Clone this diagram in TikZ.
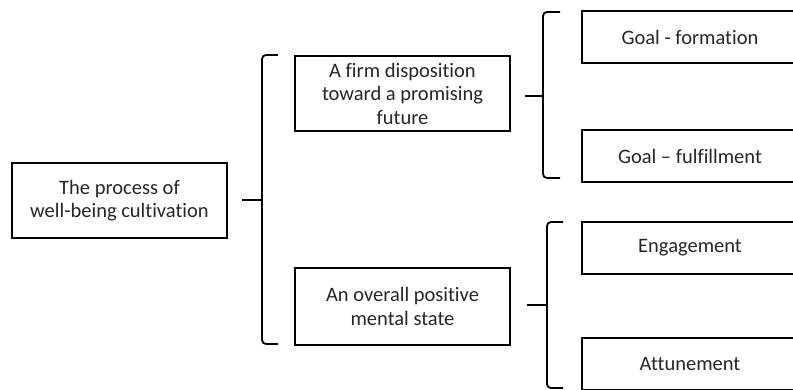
\documentclass[tikz,border=0pt]{standalone}
\usepackage{fontspec}
\setmainfont{Carlito}[Ligatures=NoCommon]
\usetikzlibrary{positioning}

\begin{document}
\begin{tikzpicture}[x=1pt,y=-1pt,
        box/.style={draw,line width=2.6pt,align=center,inner sep=0pt,text=black!85,
          font=\fontsize{20.5}{23.5}\selectfont},
        bigbox/.style={box,minimum width=215pt,minimum height=75pt},
        leafbox/.style={box,minimum width=216pt,minimum height=52pt},
        brace/.style={line width=1.8pt,rounded corners=4pt},
        tick/.style={line width=2.8pt}]
        \useasboundingbox (0,0) rectangle (793,390);
        \clip (0,0) rectangle (793,390);

        % left side
        \node[bigbox] (proc) at (119.5,200.5) {The process of\\well-being cultivation};

        % middle
        \node[bigbox] (firm) at (402.5,93.5) {A firm disposition\\toward a promising\\future};
        \node[bigbox,minimum height=77pt] (mental) at (402.5,306.5) {An overall positive\\mental state};

        % right side
        \node[leafbox] (gform) at (690,37) {Goal - formation};
        \node[leafbox] (gfull) at (690,156) {Goal -- fulfillment};
        \node[leafbox] (engage) at (690,248) {Engagement};
        \node[leafbox] (attune) at (690,364) {Attunement};

        % braces
        \coordinate (procR) at (242,200);
        \coordinate (procB) at (262,200);
        \coordinate (firmR) at (525,96);
        \coordinate (firmB) at (543,96);
        \coordinate (mentalR) at (527,305);
        \coordinate (mentalB) at (547,305);

        \draw[brace] (278,55) -- (procB |- 0,55) -- (procB |- 0,344) -- (278,344);
        \draw[tick] (procR) -- (procB);
        \draw[brace] (560,12) -- (firmB |- 0,12) -- (firmB |- 0,178) -- (560,178);
        \draw[tick] (firmR) -- (firmB);
        \draw[brace] (563,222) -- (mentalB |- 0,222) -- (mentalB |- 0,388) -- (563,388);
        \draw[tick] (mentalR) -- (mentalB);
\end{tikzpicture}
\end{document}
